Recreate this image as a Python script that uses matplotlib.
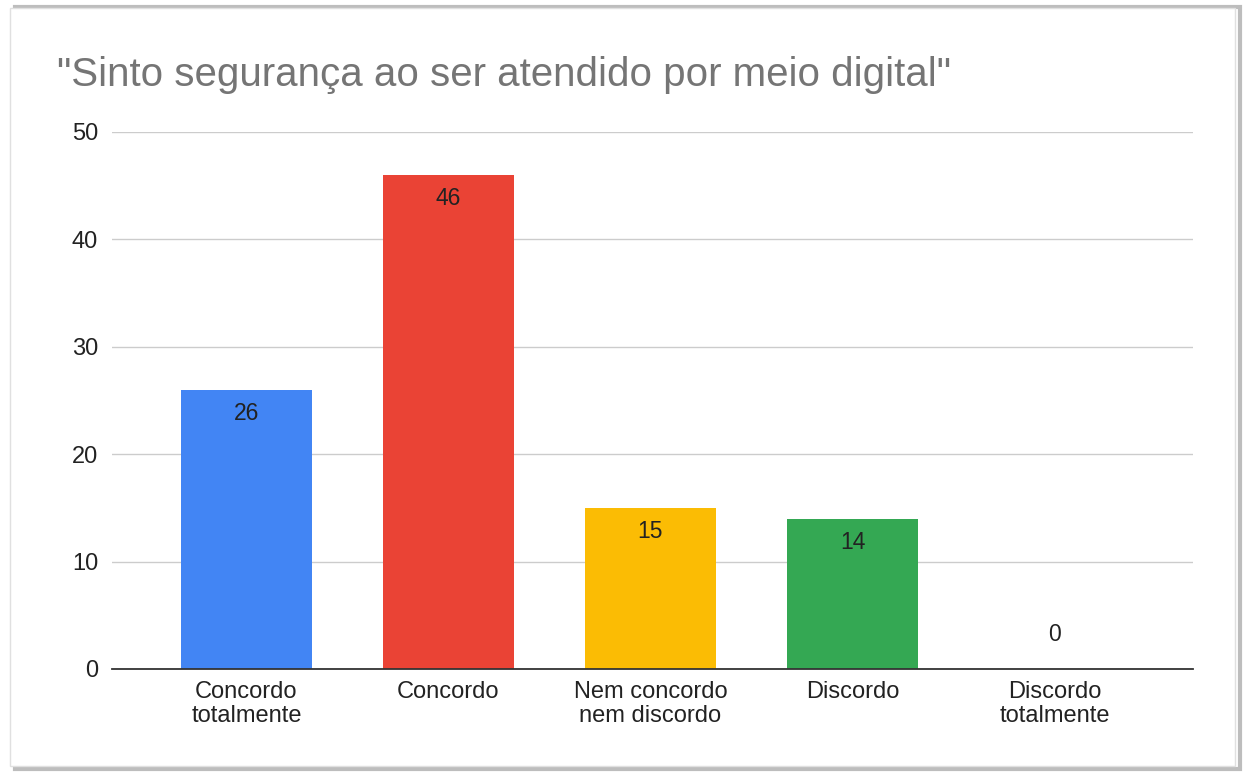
import matplotlib.pyplot as plt
from matplotlib.patches import Rectangle

plt.rcParams['font.family'] = ['Liberation Sans', 'DejaVu Sans']

categorias = ['Concordo\ntotalmente', 'Concordo', 'Nem concordo\nnem discordo', 'Discordo', 'Discordo\ntotalmente']
valores = [26, 46, 15, 14, 0]
cores = ['#4285f4', '#ea4335', '#fbbc04', '#34a853', '#ff6d01']

fig = plt.figure(figsize=(12.44, 7.74), dpi=100, facecolor='white')

# moldura com sombra
fig.patches.append(Rectangle((0.012, 0.006), 0.985, 0.985, transform=fig.transFigure,
                             fc='none', ec='#bdbdbd', lw=3, zorder=-2))
fig.patches.append(Rectangle((0.008, 0.01), 0.985, 0.98, transform=fig.transFigure,
                             fc='white', ec='#e0e0e0', lw=1, zorder=-1))

ax = fig.add_axes([0.09, 0.1357, 0.869, 0.6938])
x = range(len(valores))
bars = ax.bar(x, valores, width=0.65, color=cores, zorder=2)

for b, v in zip(bars, valores):
    cx = b.get_x() + b.get_width() / 2
    if v > 0:
        ax.text(cx, v - 2.2, str(v), ha='center', va='center',
                fontsize=16.5, color='#222222', zorder=3)
    else:
        ax.text(cx, 3.2, str(v), ha='center', va='center',
                fontsize=16.5, color='#222222', zorder=3)

ax.set_xlim(-0.666, 4.686)
ax.set_ylim(0, 50)
ax.set_yticks([0, 10, 20, 30, 40, 50])
ax.set_xticks(list(x))
ax.set_xticklabels(categorias, fontsize=17, color='#222222', linespacing=1.1)
ax.tick_params(axis='y', labelsize=17, colors='#222222', length=0, pad=10)
ax.tick_params(axis='x', length=0, pad=9)
ax.grid(axis='y', color='#cccccc', lw=1, zorder=0)
for s in ['top', 'right', 'left']:
    ax.spines[s].set_visible(False)
ax.spines['bottom'].set_color('#333333')
ax.spines['bottom'].set_linewidth(1.3)
ax.spines['bottom'].set_zorder(4)
ax.set_facecolor('none')

fig.text(0.046, 0.903, '"Sinto segurança ao ser atendido por meio digital"',
         fontsize=29, color='#757575', ha='left', va='center')

fig.savefig('out.png', dpi=100, facecolor='white')
